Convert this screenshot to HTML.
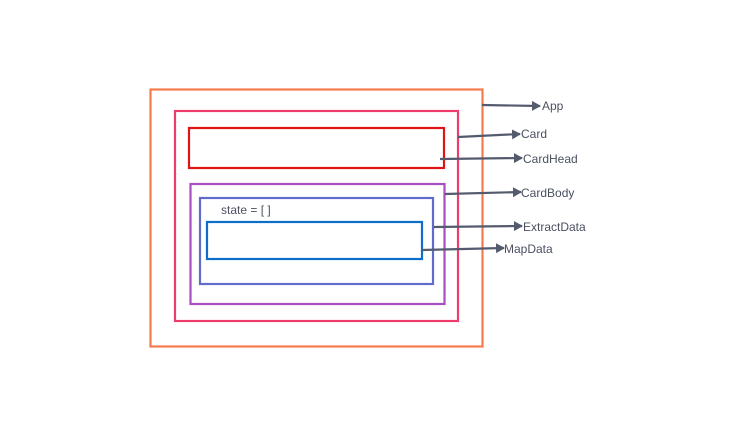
<!DOCTYPE html>
<html><head><style>html,body{margin:0;padding:0;background:#fff;}</style></head>
<body>
<svg width="737" height="434" viewBox="0 0 737 434" xmlns="http://www.w3.org/2000/svg" font-family="Liberation Sans, sans-serif">
<defs>
<marker id="a" markerWidth="9" markerHeight="10" refX="8" refY="5" orient="auto" markerUnits="userSpaceOnUse"><path d="M0,0 L9,5 L0,10 z" fill="#545b6e"/></marker>
</defs>
<g fill="none" stroke-width="2.2">
<rect x="150.5" y="89.5" width="332" height="257" stroke="#f57a4c"/>
<rect x="175" y="111" width="283" height="210" stroke="#ee3d6c"/>
<rect x="189" y="128" width="255" height="40" stroke="#e01414"/>
<rect x="190.5" y="184" width="254" height="120" stroke="#a64ec2"/>
<rect x="200" y="198" width="233" height="86" stroke="#5f6cc9"/>
<rect x="207" y="222" width="215" height="37" stroke="#0c6ec8"/>
</g>
<g stroke="#545b6e" stroke-width="2.2" marker-end="url(#a)">
<line x1="482" y1="105" x2="540" y2="106"/>
<line x1="458" y1="137" x2="520" y2="134"/>
<line x1="440" y1="159" x2="522" y2="158"/>
<line x1="445" y1="194" x2="521" y2="192"/>
<line x1="434" y1="227" x2="522" y2="226"/>
<line x1="422" y1="250" x2="504" y2="248"/>
</g>
<g fill="#4a5060" font-size="12">
<text x="542" y="110">App</text>
<text x="521" y="138">Card</text>
<text x="523" y="163">CardHead</text>
<text x="521" y="197">CardBody</text>
<text x="523" y="231">ExtractData</text>
<text x="504" y="253">MapData</text>
<text x="221" y="214">state = [ ]</text>
</g>
</svg>
</body></html>
